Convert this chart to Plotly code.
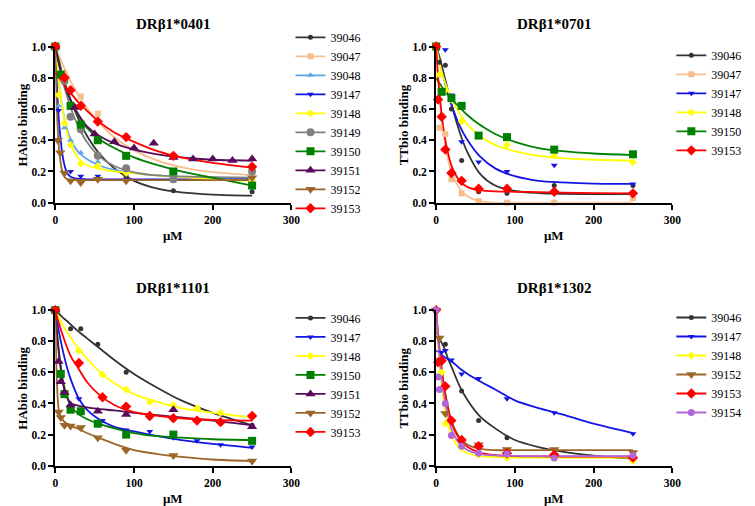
import plotly.graph_objects as go

W, H = 755, 506

# ---------------- data ----------------
CURVE_X = [0, 2, 5, 10, 15, 20, 30, 40, 55, 75, 100, 130, 160, 200, 250]

PANEL_TITLES = ["DRβ1*0401", "DRβ1*0701", "DRβ1*1101", "DRβ1*1302"]
Y_TITLES = ["HAbio binding", "TTbio binding", "HAbio binding", "TTbio binding"]
X_TICKS = [0, 100, 200, 300]
Y_TICKS = [0.0, 0.2, 0.4, 0.6, 0.8, 1.0]

# ---- Panel 1: DRb1*0401 ----
p1_39046_x = [0, 11.7, 19.4, 32.4, 54, 90, 150, 250]
p1_39046_y = [1.0, 0.82, 0.63, 0.46, 0.30, 0.17, 0.077, 0.07]
p1_39046_fit = [1.0, 0.96, 0.90, 0.80, 0.72, 0.65, 0.53, 0.43, 0.32, 0.22, 0.14, 0.09, 0.066, 0.052, 0.045]

p1_39047_x = [0, 11.7, 32.4, 54, 150, 250]
p1_39047_y = [1.0, 0.83, 0.68, 0.57, 0.30, 0.20]
p1_39047_fit = [1.0, 0.974, 0.937, 0.878, 0.824, 0.773, 0.684, 0.608, 0.515, 0.419, 0.335, 0.269, 0.228, 0.196, 0.177]

p1_39048_x = [0, 4.2, 11.7, 19.4, 32.4, 54, 90, 150, 250]
p1_39048_y = [1.0, 0.62, 0.48, 0.40, 0.32, 0.26, 0.21, 0.14, 0.15]
p1_39048_fit = [1.0, 0.88, 0.75, 0.58, 0.47, 0.40, 0.32, 0.28, 0.24, 0.21, 0.19, 0.175, 0.165, 0.16, 0.155]

p1_39147_x = [0, 4.2, 19.4, 32.4, 54, 90, 150, 250]
p1_39147_y = [1.0, 0.59, 0.20, 0.17, 0.17, 0.15, 0.15, 0.16]
p1_39147_fit = [1.0, 0.75, 0.50, 0.28, 0.19, 0.165, 0.152, 0.15, 0.15, 0.15, 0.15, 0.15, 0.15, 0.15, 0.15]

p1_39148_x = [0, 4.2, 11.7, 19.4, 32.4, 54, 90, 250]
p1_39148_y = [1.0, 0.69, 0.51, 0.37, 0.25, 0.235, 0.19, 0.15]
p1_39148_fit = [1.0, 0.90, 0.76, 0.58, 0.45, 0.37, 0.28, 0.24, 0.22, 0.20, 0.19, 0.175, 0.165, 0.15, 0.14]

p1_39149_x = [0, 11.7, 19.4, 32.4, 54, 90, 150, 250]
p1_39149_y = [1.0, 0.78, 0.55, 0.47, 0.30, 0.22, 0.15, 0.20]
p1_39149_fit = [1.0, 0.95, 0.88, 0.77, 0.68, 0.60, 0.48, 0.39, 0.30, 0.235, 0.195, 0.175, 0.168, 0.163, 0.16]

p1_39150_x = [0, 7, 19.4, 32.4, 54, 90, 150, 250]
p1_39150_y = [1.0, 0.82, 0.62, 0.50, 0.40, 0.30, 0.20, 0.11]
p1_39150_fit = [1.0, 0.96, 0.90, 0.80, 0.72, 0.65, 0.55, 0.48, 0.41, 0.35, 0.29, 0.24, 0.20, 0.16, 0.11]

p1_39151_x = [0, 25, 50, 75, 100, 125, 150, 175, 200, 225, 250]
p1_39151_y = [1.0, 0.61, 0.44, 0.39, 0.35, 0.38, 0.29, 0.28, 0.28, 0.27, 0.28]
p1_39151_fit = [1.0, 0.95, 0.88, 0.78, 0.71, 0.65, 0.56, 0.49, 0.43, 0.38, 0.34, 0.31, 0.29, 0.275, 0.27]

p1_39152_x = [0, 3.3, 6.3, 11.7, 19.4, 32.4, 54, 90, 250]
p1_39152_y = [1.0, 0.40, 0.32, 0.19, 0.14, 0.13, 0.15, 0.14, 0.16]
p1_39152_fit = [1.0, 0.60, 0.33, 0.18, 0.15, 0.145, 0.145, 0.145, 0.145, 0.145, 0.145, 0.145, 0.145, 0.145, 0.145]

p1_39153_x = [0, 11.7, 19.4, 32.4, 54, 90, 150, 250]
p1_39153_y = [1.0, 0.80, 0.72, 0.62, 0.52, 0.42, 0.30, 0.23]
p1_39153_fit = [0.83, 0.82, 0.80, 0.76, 0.73, 0.70, 0.64, 0.59, 0.52, 0.45, 0.39, 0.33, 0.29, 0.255, 0.225]

# ---- Panel 2: DRb1*0701 ----
p2_39046_x = [0, 4.2, 11.7, 19.4, 32.4, 54, 90, 150, 250]
p2_39046_y = [1.0, 0.90, 0.88, 0.60, 0.27, 0.07, 0.06, 0.11, 0.11]
p2_39046_fit = [1.0, 0.97, 0.92, 0.82, 0.72, 0.62, 0.45, 0.32, 0.19, 0.11, 0.075, 0.062, 0.057, 0.055, 0.055]

p2_39047_x = [0, 4.2, 11.7, 19.4, 32.4, 54, 90, 150, 250]
p2_39047_y = [1.0, 0.48, 0.44, 0.15, 0.06, 0.01, 0.0, 0.0, 0.03]
p2_39047_fit = [1.0, 0.83, 0.64, 0.42, 0.28, 0.19, 0.09, 0.04, 0.01, 0.0, 0.0, 0.0, 0.0, 0.0, 0.0]

p2_39147_x = [0, 11.7, 19.4, 32.4, 54, 90, 150, 250]
p2_39147_y = [1.0, 0.98, 0.69, 0.39, 0.26, 0.20, 0.24, 0.12]
p2_39147_fit = [1.0, 0.96, 0.89, 0.79, 0.70, 0.62, 0.49, 0.40, 0.30, 0.22, 0.17, 0.14, 0.13, 0.122, 0.12]

p2_39148_x = [0, 4.2, 11.7, 19.4, 32.4, 54, 90, 150, 250]
p2_39148_y = [1.0, 0.82, 0.72, 0.66, 0.52, 0.43, 0.37, 0.30, 0.26]
p2_39148_fit = [1.0, 0.95, 0.88, 0.79, 0.72, 0.66, 0.57, 0.50, 0.43, 0.37, 0.33, 0.30, 0.285, 0.275, 0.27]

p2_39150_x = [0, 7, 19.4, 32.4, 54, 90, 150, 250]
p2_39150_y = [1.0, 0.71, 0.67, 0.62, 0.43, 0.42, 0.34, 0.31]
p2_39150_fit = [0.80, 0.78, 0.76, 0.72, 0.69, 0.66, 0.61, 0.56, 0.50, 0.44, 0.39, 0.35, 0.33, 0.315, 0.305]

p2_39153_x = [0, 2.5, 7, 11.7, 19.4, 32.4, 54, 90, 150, 250]
p2_39153_y = [1.0, 0.66, 0.55, 0.34, 0.19, 0.14, 0.09, 0.09, 0.07, 0.06]
p2_39153_fit = [1.0, 0.84, 0.66, 0.45, 0.32, 0.23, 0.14, 0.10, 0.08, 0.072, 0.07, 0.068, 0.065, 0.062, 0.06]

# ---- Panel 3: DRb1*1101 ----
p3_39046_x = [0, 19.4, 32.4, 54, 90, 250]
p3_39046_y = [1.0, 0.88, 0.88, 0.78, 0.60, 0.26]
p3_39046_fit = [1.0, 0.99, 0.975, 0.95, 0.93, 0.905, 0.86, 0.82, 0.76, 0.68, 0.59, 0.50, 0.42, 0.34, 0.26]

p3_39147_x = [0, 30, 60, 90, 120, 150, 180, 210, 250]
p3_39147_y = [1.0, 0.43, 0.29, 0.23, 0.22, 0.18, 0.16, 0.135, 0.12]
p3_39147_fit = [1.0, 0.94, 0.85, 0.73, 0.63, 0.55, 0.43, 0.36, 0.30, 0.25, 0.22, 0.19, 0.165, 0.14, 0.115]

p3_39148_x = [0, 30, 60, 90, 120, 150, 180, 210, 250]
p3_39148_y = [1.0, 0.74, 0.585, 0.49, 0.41, 0.39, 0.37, 0.34, 0.32]
p3_39148_fit = [1.0, 0.98, 0.95, 0.90, 0.86, 0.82, 0.75, 0.69, 0.61, 0.53, 0.46, 0.41, 0.37, 0.34, 0.31]

p3_39150_x = [0, 7, 11.7, 19.4, 32.4, 54, 90, 150, 250]
p3_39150_y = [1.0, 0.59, 0.46, 0.36, 0.35, 0.27, 0.20, 0.20, 0.16]
p3_39150_fit = [1.0, 0.87, 0.72, 0.54, 0.44, 0.38, 0.33, 0.30, 0.27, 0.24, 0.21, 0.19, 0.18, 0.17, 0.165]

p3_39151_x = [0, 4.2, 7, 11.7, 19.4, 54, 90, 150, 250]
p3_39151_y = [1.0, 0.67, 0.54, 0.47, 0.39, 0.35, 0.33, 0.36, 0.25]
p3_39151_fit = [1.0, 0.86, 0.70, 0.52, 0.44, 0.40, 0.385, 0.375, 0.365, 0.355, 0.34, 0.325, 0.31, 0.29, 0.26]

p3_39152_x = [0, 4.2, 7, 11.7, 19.4, 32.4, 54, 90, 150, 250]
p3_39152_y = [1.0, 0.345, 0.31, 0.26, 0.255, 0.245, 0.18, 0.10, 0.065, 0.03]
p3_39152_fit = [1.0, 0.55, 0.34, 0.29, 0.27, 0.255, 0.235, 0.21, 0.18, 0.14, 0.10, 0.075, 0.057, 0.04, 0.03]

p3_39153_x = [0, 30, 60, 90, 120, 150, 180, 210, 250]
p3_39153_y = [1.0, 0.66, 0.44, 0.38, 0.32, 0.305, 0.29, 0.28, 0.32]
p3_39153_fit = [1.0, 0.96, 0.91, 0.83, 0.76, 0.70, 0.62, 0.54, 0.46, 0.39, 0.345, 0.32, 0.305, 0.295, 0.29]

# ---- Panel 4: DRb1*1302 ----
p4_39046_x = [0, 11.7, 32.4, 54, 90, 250]
p4_39046_y = [1.0, 0.78, 0.48, 0.29, 0.18, 0.04]
p4_39046_fit = [0.86, 0.84, 0.81, 0.76, 0.69, 0.63, 0.51, 0.42, 0.32, 0.24, 0.165, 0.12, 0.09, 0.065, 0.045]

p4_39147_x = [0, 7, 11.7, 19.4, 32.4, 54, 90, 150, 250]
p4_39147_y = [1.0, 0.73, 0.74, 0.68, 0.59, 0.56, 0.43, 0.34, 0.205]
p4_39147_fit = [0.74, 0.735, 0.72, 0.70, 0.685, 0.67, 0.625, 0.59, 0.545, 0.49, 0.42, 0.37, 0.33, 0.27, 0.21]

p4_39148_x = [0, 7, 11.7, 19.4, 32.4, 54, 90, 150, 250]
p4_39148_y = [1.0, 0.60, 0.27, 0.195, 0.12, 0.07, 0.05, 0.05, 0.03]
p4_39148_fit = [1.0, 0.82, 0.62, 0.40, 0.27, 0.19, 0.11, 0.08, 0.062, 0.055, 0.053, 0.052, 0.052, 0.052, 0.052]

p4_39152_x = [0, 4.2, 11.7, 54, 90, 150, 250]
p4_39152_y = [1.0, 0.82, 0.335, 0.135, 0.105, 0.105, 0.085]
p4_39152_fit = [1.0, 0.88, 0.72, 0.52, 0.38, 0.28, 0.18, 0.135, 0.11, 0.10, 0.10, 0.10, 0.10, 0.10, 0.10]

p4_39153_x = [0, 2.5, 7, 11.7, 19.4, 32.4, 54, 90, 150, 250]
p4_39153_y = [1.0, 0.665, 0.675, 0.51, 0.29, 0.165, 0.125, 0.08, 0.07, 0.052]
p4_39153_fit = [1.0, 0.86, 0.70, 0.50, 0.37, 0.27, 0.17, 0.12, 0.085, 0.068, 0.062, 0.06, 0.059, 0.058, 0.058]

p4_39154_x = [0, 2.5, 4.2, 11.7, 19.4, 32.4, 54, 90, 150, 250]
p4_39154_y = [1.0, 0.57, 0.49, 0.40, 0.195, 0.125, 0.08, 0.075, 0.05, 0.065]
p4_39154_fit = [1.0, 0.85, 0.66, 0.45, 0.32, 0.23, 0.14, 0.10, 0.075, 0.066, 0.063, 0.062, 0.062, 0.062, 0.062]

# ---------------- styles ----------------
STYLE = {
    "39046": dict(color="#333333", symbol="circle", size=5),
    "39047": dict(color="#F7BE8D", symbol="square", size=6),
    "39048": dict(color="#5DA5E8", symbol="triangle-up", size=6),
    "39147": dict(color="#1414E6", symbol="triangle-down", size=6),
    "39148": dict(color="#FFFF00", symbol="diamond", size=6),
    "39149": dict(color="#808080", symbol="circle", size=8),
    "39150": dict(color="#008000", symbol="square", size=8),
    "39151": dict(color="#5A0A5A", symbol="triangle-up", size=9),
    "39152": dict(color="#9C6628", symbol="triangle-down", size=9),
    "39153": dict(color="#FF0000", symbol="diamond", size=8),
    "39154": dict(color="#B266D9", symbol="circle", size=7),
}

PANELS = [
    [("39046", p1_39046_x, p1_39046_y, p1_39046_fit),
     ("39047", p1_39047_x, p1_39047_y, p1_39047_fit),
     ("39048", p1_39048_x, p1_39048_y, p1_39048_fit),
     ("39147", p1_39147_x, p1_39147_y, p1_39147_fit),
     ("39148", p1_39148_x, p1_39148_y, p1_39148_fit),
     ("39149", p1_39149_x, p1_39149_y, p1_39149_fit),
     ("39150", p1_39150_x, p1_39150_y, p1_39150_fit),
     ("39151", p1_39151_x, p1_39151_y, p1_39151_fit),
     ("39152", p1_39152_x, p1_39152_y, p1_39152_fit),
     ("39153", p1_39153_x, p1_39153_y, p1_39153_fit)],
    [("39046", p2_39046_x, p2_39046_y, p2_39046_fit),
     ("39047", p2_39047_x, p2_39047_y, p2_39047_fit),
     ("39147", p2_39147_x, p2_39147_y, p2_39147_fit),
     ("39148", p2_39148_x, p2_39148_y, p2_39148_fit),
     ("39150", p2_39150_x, p2_39150_y, p2_39150_fit),
     ("39153", p2_39153_x, p2_39153_y, p2_39153_fit)],
    [("39046", p3_39046_x, p3_39046_y, p3_39046_fit),
     ("39147", p3_39147_x, p3_39147_y, p3_39147_fit),
     ("39148", p3_39148_x, p3_39148_y, p3_39148_fit),
     ("39150", p3_39150_x, p3_39150_y, p3_39150_fit),
     ("39151", p3_39151_x, p3_39151_y, p3_39151_fit),
     ("39152", p3_39152_x, p3_39152_y, p3_39152_fit),
     ("39153", p3_39153_x, p3_39153_y, p3_39153_fit)],
    [("39046", p4_39046_x, p4_39046_y, p4_39046_fit),
     ("39147", p4_39147_x, p4_39147_y, p4_39147_fit),
     ("39148", p4_39148_x, p4_39148_y, p4_39148_fit),
     ("39152", p4_39152_x, p4_39152_y, p4_39152_fit),
     ("39153", p4_39153_x, p4_39153_y, p4_39153_fit),
     ("39154", p4_39154_x, p4_39154_y, p4_39154_fit)],
]

# ---------------- layout geometry (pixels) ----------------
PX_X = [(45, 285), (432, 672), (45, 285), (432, 672)]
PX_Y = [(33.3, 193.3), (33.3, 193.3), (303.3, 462.7), (303.3, 462.7)]
LEG_POS = [(284, 9), (671, 27.5), (284, 296.5), (671, 296)]

SERIF = "Liberation Serif"

fig = go.Figure()
layout = dict(
    width=W, height=H, margin=dict(l=0, r=0, t=0, b=0),
    paper_bgcolor="white", plot_bgcolor="white", showlegend=True,
    font=dict(family=SERIF, color="black"),
    annotations=[],
)

for i, series in enumerate(PANELS):
    n = "" if i == 0 else str(i + 1)
    xa, ya = "x" + n, "y" + n
    leg = "legend" + n
    for name, xs, ys, fit in series:
        st = STYLE[name]
        fig.add_trace(go.Scatter(
            x=CURVE_X, y=fit, mode="lines", xaxis=xa, yaxis=ya,
            line=dict(color=st["color"], width=1.8, shape="spline", smoothing=0.8),
            showlegend=False, hoverinfo="skip", legend=leg))
    for name, xs, ys, fit in series:
        st = STYLE[name]
        fig.add_trace(go.Scatter(
            x=xs, y=ys, mode="markers", xaxis=xa, yaxis=ya, cliponaxis=False,
            marker=dict(color=st["color"], symbol=st["symbol"], size=st["size"], line=dict(width=0)),
            showlegend=False, legend=leg))
    for name, xs, ys, fit in series:
        st = STYLE[name]
        fig.add_trace(go.Scatter(
            x=[None], y=[None], mode="lines+markers", xaxis=xa, yaxis=ya, name=name,
            line=dict(color=st["color"], width=1.8),
            marker=dict(color=st["color"], symbol=st["symbol"], size=st["size"], line=dict(width=0)),
            showlegend=True, legend=leg))

    x0, x1 = PX_X[i]
    yt, yb = PX_Y[i]
    axis_common = dict(showline=True, linecolor="black", linewidth=2, ticks="outside",
                       ticklen=5, tickwidth=2, tickcolor="black", showgrid=False, zeroline=False,
                       tickfont=dict(family=SERIF, size=11.5, color="black", weight="bold"))
    layout["xaxis" + n] = dict(domain=[x0 / W, x1 / W], anchor=ya, range=[0, 300],
                               tickvals=X_TICKS, **axis_common)
    layout["yaxis" + n] = dict(domain=[1 - yb / H, 1 - yt / H], anchor=xa, range=[0, 1.0],
                               tickvals=Y_TICKS, tickformat=".1f", **axis_common)
    lx, ly = LEG_POS[i]
    layout[leg] = dict(x=lx / W, y=1 - ly / H, xanchor="left", yanchor="top",
                       bgcolor="rgba(0,0,0,0)", borderwidth=0, itemsizing="trace",
                       font=dict(family=SERIF, size=12, color="black"))
    cx = (x0 + x1) / 2
    # panel title
    layout["annotations"].append(dict(
        text=PANEL_TITLES[i], x=cx / W, y=1 - (yt - 23) / H, xref="paper", yref="paper",
        showarrow=False, xanchor="center", yanchor="middle",
        font=dict(family=SERIF, size=15, color="black", weight="bold")))
    # x title
    layout["annotations"].append(dict(
        text="μM", x=cx / W, y=1 - (yb + 34) / H, xref="paper", yref="paper",
        showarrow=False, xanchor="center", yanchor="middle",
        font=dict(family=SERIF, size=13, color="black", weight="bold")))
    # y title
    layout["annotations"].append(dict(
        text=Y_TITLES[i], x=(x0 - 33) / W, y=1 - ((yt + yb) / 2) / H, xref="paper", yref="paper",
        showarrow=False, xanchor="center", yanchor="middle", textangle=-90,
        font=dict(family=SERIF, size=13, color="black", weight="bold")))

fig.update_layout(**layout)
fig.write_html("out.html")
